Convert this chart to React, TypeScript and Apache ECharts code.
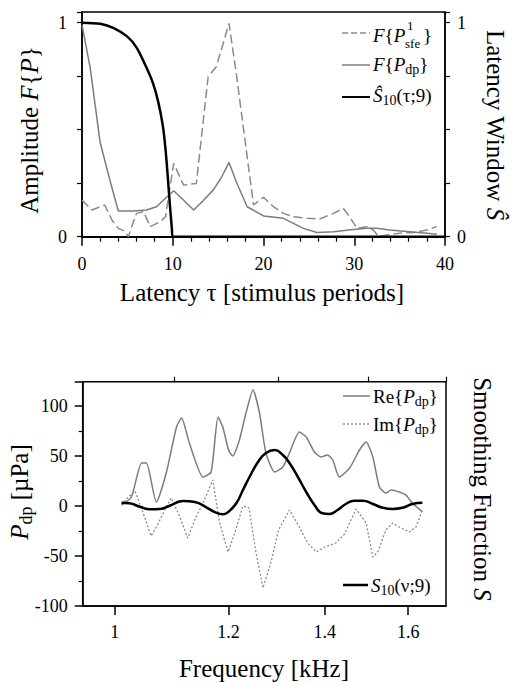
import React, { useEffect, useRef } from "react";
import * as echarts from "echarts";

// ---------- Top panel: latency domain ----------
const tauTicks = [0, 10, 20, 30, 40];
const tauDp = [0, 0.9, 2.0, 3.1, 4.0, 5.7, 7.1, 8.2, 9.2, 10.1, 11.2, 12.3, 13.4, 14.5, 15.4, 16.2, 17.0, 18.2, 20.0, 22.2, 23.3, 24.4, 25.9, 27.7, 29.9, 31.4, 32.5, 33.9, 36.1, 38.0, 39.1];
const ampDp = [0.99, 0.79, 0.44, 0.26, 0.12, 0.12, 0.125, 0.14, 0.18, 0.215, 0.17, 0.125, 0.17, 0.22, 0.28, 0.347, 0.257, 0.14, 0.097, 0.086, 0.062, 0.039, 0.02, 0.023, 0.034, 0.039, 0.04, 0.031, 0.023, 0.016, 0.011];
const tauSfe = [0, 1.1, 2.0, 2.5, 3.3, 4.0, 4.7, 5.1, 6.0, 6.8, 7.5, 8.6, 9.2, 10.1, 11.2, 12.6, 13.9, 14.8, 16.2, 17.0, 18.2, 18.9, 20.0, 21.1, 22.2, 23.3, 24.8, 26.2, 27.7, 28.8, 29.5, 30.3, 31.4, 32.1, 32.7, 33.6, 35.0, 36.5, 38.0, 39.1];
const ampSfe = [0.171, 0.125, 0.14, 0.148, 0.078, 0.039, 0.026, 0.0, 0.109, 0.117, 0.047, 0.07, 0.093, 0.343, 0.241, 0.249, 0.748, 0.794, 0.997, 0.763, 0.374, 0.148, 0.184, 0.14, 0.109, 0.093, 0.086, 0.083, 0.109, 0.132, 0.093, 0.039, 0.047, 0.031, 0.0, 0.008, 0.016, 0.02, 0.031, 0.047];
const tauWin = [0, 2, 3.5, 5, 6, 7, 7.8, 8.4, 8.9, 9.2, 9.45, 9.7, 9.9, 10, 40];
const winVal = [1, 0.995, 0.975, 0.935, 0.885, 0.8, 0.72, 0.63, 0.52, 0.41, 0.28, 0.14, 0.04, 0, 0];

// ---------- Bottom panel: frequency domain (kHz) ----------
const freqMajorTicks = [1, 1.2, 1.4, 1.6];
const freqMinorTicks = [1.1, 1.3, 1.5, 1.7];
const reFreq = [1.011, 1.027, 1.044, 1.052, 1.069, 1.086, 1.104, 1.113, 1.127, 1.152, 1.167, 1.180, 1.189, 1.200, 1.208, 1.221, 1.234, 1.248, 1.261, 1.274, 1.292, 1.309, 1.323, 1.344, 1.359, 1.377, 1.392, 1.406, 1.418, 1.433, 1.457, 1.480, 1.496, 1.512, 1.528, 1.544, 1.557, 1.577, 1.594, 1.611, 1.637];
const reVal = [1, 9, 43, 43, 4, 33, 79, 88, 63, 29, 34, 89, 79, 56, 50, 66, 93, 116, 93, 53, 34, 39, 53, 74, 69, 54, 49, 51, 46, 29, 38, 56, 64, 49, 19, 13, 16, 14, 11, 3, -6];
const imFreq = [1.011, 1.022, 1.033, 1.046, 1.060, 1.070, 1.086, 1.095, 1.110, 1.124, 1.139, 1.152, 1.170, 1.183, 1.199, 1.212, 1.228, 1.240, 1.254, 1.268, 1.284, 1.300, 1.323, 1.344, 1.362, 1.381, 1.400, 1.425, 1.445, 1.472, 1.496, 1.512, 1.524, 1.544, 1.561, 1.577, 1.603, 1.620, 1.637];
const imVal = [1, 9, 15, -6, -30, -20, -1, 8, -11, -32, -11, 3, 26, -17, -46, -27, 0, -2, -47, -82, -57, -24, -4, -21, -37, -46, -41, -37, -28, -3, -17, -51, -46, -24, -17, -21, -26, -21, -4];
const sFreq = [1.011, 1.024, 1.041, 1.058, 1.075, 1.092, 1.116, 1.137, 1.158, 1.176, 1.189, 1.200, 1.215, 1.228, 1.241, 1.258, 1.274, 1.292, 1.309, 1.323, 1.341, 1.359, 1.377, 1.395, 1.410, 1.429, 1.448, 1.468, 1.488, 1.512, 1.536, 1.561, 1.586, 1.611, 1.637];
const sVal = [3.3, 2.7, -0.7, -3.3, -3, 0.3, 5, 4, -1.3, -6.7, -8.3, -5.7, 2.7, 16, 29, 44, 53, 56, 51, 43, 29, 14, 1, -7.3, -8, -4, 2, 5.3, 5.3, 2, -1.7, -3, -1.7, 2, 3.3];

const FONT = '"Liberation Serif", "Times New Roman", serif';
const GRAY = "#7c7c7c";
const lg = (v: number) => Math.log10(v);

function txt(x: number, y: number, text: string, size: number, opts: any = {}) {
  const rich = {
    i: { fontStyle: "italic", fontSize: size, fontFamily: FONT, fill: "#000" },
    s: { fontSize: Math.round(size * 0.72), fontFamily: FONT, fill: "#000", padding: [Math.round(size * 0.55), 0, 0, 0] },
  };
  return {
    type: "text",
    x,
    y,
    rotation: opts.rotation || 0,
    z: 100,
    style: {
      text,
      fontSize: size,
      fontFamily: FONT,
      fontStyle: opts.fontStyle || "normal",
      fill: "#000",
      align: opts.align || "left",
      textAlign: opts.align || "left",
      verticalAlign: "middle",
      textVerticalAlign: "middle",
      rich,
    },
  };
}

function seg(x1: number, x2: number, y: number, color: string, width: number, dash?: number[]) {
  return {
    type: "line",
    z: 100,
    shape: { x1, y1: y, x2, y2: y },
    style: { stroke: color, lineWidth: width, lineDash: dash || null },
  };
}

export default function App() {
  const ref = useRef<HTMLDivElement>(null);
  useEffect(() => {
    document.body.style.margin = "0";
    const chart = echarts.init(ref.current!, null, { renderer: "svg" });
    const axisFont = { fontFamily: FONT, fontSize: 18, color: "#000" };
    const axisLine = { show: true, onZero: false, lineStyle: { color: "#000", width: 1.5 } };
    const option: any = {
      animation: false,
      backgroundColor: "#fff",
      grid: [
        { left: 82, top: 12, width: 363, height: 224.7, show: true, borderColor: "#000", borderWidth: 1.5, containLabel: false },
        { left: 82.7, top: 381.7, width: 363.3, height: 224.3, show: true, borderColor: "#000", borderWidth: 1.5, containLabel: false },
      ],
      xAxis: [
        {
          gridIndex: 0, type: "value", min: 0, max: 40, interval: 10,
          axisLine: { ...axisLine, lineStyle: { color: "#000", width: 2 } },
          axisTick: { show: true, length: 9, lineStyle: { color: "#000", width: 1.5 } },
          minorTick: { show: true, splitNumber: 5, length: 5, lineStyle: { color: "#000", width: 1.2 } },
          axisLabel: { ...axisFont, margin: 18, formatter: (v: number) => (tauTicks.includes(v) ? String(v) : "") },
          splitLine: { show: false },
        },
        {
          gridIndex: 1, type: "value", min: lg(0.95), max: lg(1.7),
          axisLine,
          axisTick: { show: true, length: 9, customValues: freqMajorTicks.map(lg), lineStyle: { color: "#000", width: 1.5 } },
          axisLabel: {
            ...axisFont, margin: 17, customValues: freqMajorTicks.map(lg),
            formatter: (v: number) => String(Math.round(Math.pow(10, v) * 10) / 10),
          },
          splitLine: { show: false },
        },
        {
          gridIndex: 1, type: "value", min: lg(0.95), max: lg(1.7),
          axisLine: { show: false, onZero: false },
          axisTick: { show: true, length: 5, customValues: freqMinorTicks.map(lg), lineStyle: { color: "#000", width: 1.2 } },
          axisLabel: { show: false },
          splitLine: { show: false },
        },
      ],
      yAxis: [
        {
          gridIndex: 0, type: "value", min: 0, max: 1.05, interval: 0.25,
          axisLine,
          axisTick: { show: true, length: 5, lineStyle: { color: "#000", width: 1.2 } },
          axisLabel: { ...axisFont, margin: 15, formatter: (v: number) => (v === 0 || v === 1 ? String(v) : "") },
          splitLine: { show: false },
        },
        {
          gridIndex: 0, type: "value", position: "right", min: 0, max: 1.05, interval: 0.25,
          axisLine,
          axisTick: { show: true, length: 5, lineStyle: { color: "#000", width: 1.2 } },
          axisLabel: { ...axisFont, margin: 12, formatter: (v: number) => (v === 0 || v === 1 ? String(v) : "") },
          splitLine: { show: false },
        },
        {
          gridIndex: 1, type: "value", min: -100, max: 124.3, interval: 50,
          axisLine,
          axisTick: { show: true, length: 8, lineStyle: { color: "#000", width: 1.5 } },
          minorTick: { show: true, splitNumber: 2, length: 4, lineStyle: { color: "#000", width: 1.2 } },
          axisLabel: { ...axisFont, margin: 15, showMaxLabel: false, formatter: (v: number) => (v % 50 === 0 ? String(v) : "") },
          splitLine: { show: false },
        },
      ],
      series: [
        {
          type: "line", xAxisIndex: 0, yAxisIndex: 0, symbol: "none", z: 3,
          data: tauSfe.map((t, i) => [t, ampSfe[i]]),
          lineStyle: { color: "#8a8a8a", width: 1.5, type: [9, 4] },
        },
        {
          type: "line", xAxisIndex: 0, yAxisIndex: 0, symbol: "none", z: 3,
          data: tauDp.map((t, i) => [t, ampDp[i]]),
          lineStyle: { color: GRAY, width: 1.5 },
        },
        {
          type: "line", xAxisIndex: 0, yAxisIndex: 0, symbol: "none", z: 4, smooth: 0.3,
          data: tauWin.map((t, i) => [t, winVal[i]]),
          lineStyle: { color: "#000", width: 2.5 },
        },
        {
          type: "line", xAxisIndex: 1, yAxisIndex: 2, symbol: "none", z: 3, smooth: 0.2,
          data: reFreq.map((f, i) => [lg(f), reVal[i]]),
          lineStyle: { color: GRAY, width: 1.5 },
        },
        {
          type: "line", xAxisIndex: 1, yAxisIndex: 2, symbol: "none", z: 3,
          data: imFreq.map((f, i) => [lg(f), imVal[i]]),
          lineStyle: { color: "#8a8a8a", width: 1.3, type: [2, 2] },
        },
        {
          type: "line", xAxisIndex: 1, yAxisIndex: 2, symbol: "none", z: 4, smooth: 0.5,
          data: sFreq.map((f, i) => [lg(f), sVal[i]]),
          lineStyle: { color: "#000", width: 2.5 },
        },
      ],
      graphic: [
        // axis titles
        txt(262, 292, "Latency τ [stimulus periods]", 25, { align: "center" }),
        txt(29, 130, "Amplitude {i|F}{{i|P}}", 25, { align: "center", rotation: Math.PI / 2 }),
        txt(495, 125, "Latency Window {i|Ŝ}", 25, { align: "center", rotation: -Math.PI / 2 }),
        txt(264, 668, "Frequency [kHz]", 25, { align: "center" }),
        txt(19, 492, "{i|P}{s|dp} [µPa]", 25, { align: "center", rotation: Math.PI / 2 }),
        txt(482, 489, "Smoothing Function {i|S}", 25, { align: "center", rotation: -Math.PI / 2 }),
        // top legend
        seg(342, 370, 33, "#8a8a8a", 1.5, [6, 3]),
        txt(373, 35, "{i|F}{{i|P}", 19),
        txt(407, 25, "1", 13),
        txt(405, 43, "sfe", 13),
        txt(423, 35, "}", 19),
        seg(342, 370, 65, GRAY, 1.5),
        txt(373, 64, "{i|F}{{i|P}{s|dp}}", 19),
        seg(342, 370, 97, "#000", 2),
        txt(373, 95, "{i|Ŝ}{s|10}(τ;9)", 19),
        // bottom legend
        seg(343, 370, 396, GRAY, 1.5),
        txt(373, 396, "Re{{i|P}{s|dp}}", 19),
        seg(343, 370, 424, "#8a8a8a", 1.3, [2, 2]),
        txt(373, 424, "Im{{i|P}{s|dp}}", 19),
        seg(343, 368, 585, "#000", 2.5),
        txt(371, 585, "{i|S}{s|10}(ν;9)", 19),
      ],
    };
    chart.setOption(option);
    return () => chart.dispose();
  }, []);
  return <div ref={ref} style={{ width: 514, height: 682 }} />;
}
